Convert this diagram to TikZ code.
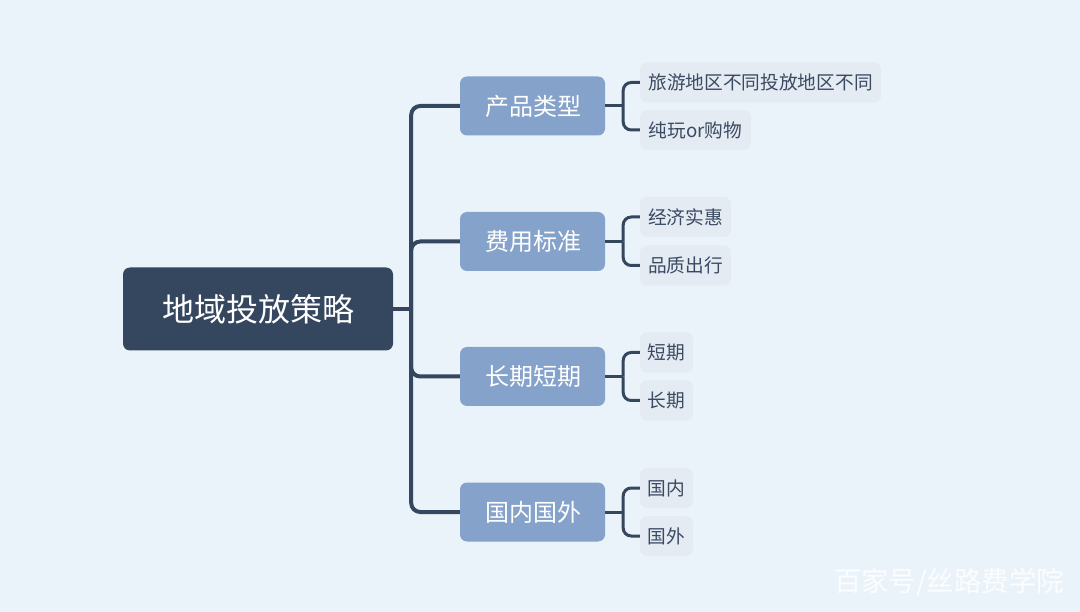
\documentclass[tikz,border=0pt]{standalone}
\usepackage{fontspec}
\setmainfont{Noto Sans CJK SC}
\definecolor{bgc}{HTML}{EBF3FA}
\definecolor{rootc}{HTML}{35465F}
\definecolor{catc}{HTML}{84A2CA}
\definecolor{leafc}{HTML}{E5EBF3}
\definecolor{leaft}{HTML}{3A4A62}
\definecolor{wm}{HTML}{FBFDFE}
\tikzset{
 rootbox/.style={fill=rootc,rounded corners=7pt,minimum width=270pt,minimum height=83pt,inner sep=0pt,text=white,font=\fontsize{32pt}{36pt}\selectfont},
 catbox/.style={fill=catc,rounded corners=7pt,minimum width=145pt,minimum height=59pt,inner sep=0pt,text=white,font=\fontsize{24pt}{28pt}\selectfont},
 leafbox/.style={fill=leafc,rounded corners=7pt,minimum height=40pt,inner sep=0pt,text=leaft,font=\fontsize{18.7pt}{22pt}\selectfont},
 trunk/.style={draw=rootc,line width=4pt,rounded corners=9pt},
 stub/.style={draw=rootc,line width=4pt},
 twig/.style={draw=rootc,line width=3pt,rounded corners=8pt},
 twigstub/.style={draw=rootc,line width=3pt}
}
\begin{document}
\begin{tikzpicture}[x=1pt,y=-1pt]
\useasboundingbox[fill=bgc] (0,0) rectangle (1080,612);
\node[rootbox] (root) at (258,309) {\raisebox{1pt}{地域投放策略}};
\node[catbox] (c1) at (532.5,106) {\hspace{1pt}产品类型};
\node[catbox] (c2) at (532.5,241.5) {\hspace{1pt}费用标准};
\node[catbox] (c3) at (532.5,376.5) {\hspace{1pt}长期短期};
\node[catbox] (c4) at (532.5,512) {\hspace{1pt}国内国外};
\node[leafbox,minimum width=241pt] (l1) at (760.5,82.5) {旅游地区不同投放地区不同};
\node[leafbox,minimum width=111pt] (l2) at (695.5,130) {纯玩or购物};
\node[leafbox,minimum width=91pt] (l3) at (685.5,217) {经济实惠};
\node[leafbox,minimum width=91pt] (l4) at (685.5,265.5) {品质出行};
\node[leafbox,minimum width=53pt] (l5) at (666.5,352.5) {短期};
\node[leafbox,minimum width=53pt] (l6) at (666.5,400.5) {长期};
\node[leafbox,minimum width=53pt] (l7) at (666.5,488) {\raisebox{1pt}{国内}};
\node[leafbox,minimum width=53pt] (l8) at (666.5,536) {国外};
\node[text=wm,font=\fontsize{27.4pt}{30pt}\selectfont,inner sep=0pt] (mark) at (949,582) {百家号/丝路费学院};
\coordinate (jr) at ([xshift=18pt]root.east);
\draw[stub] (root.east) -- (jr);
\foreach \c in {c1,c2,c3,c4}{
  \draw[trunk] (jr) |- (\c.west);
}
\foreach \c/\a/\b in {c1/l1/l2,c2/l3/l4,c3/l5/l6,c4/l7/l8}{
  \coordinate (j\c) at ([xshift=18pt]\c.east);
  \draw[twigstub] (\c.east) -- (j\c);
  \draw[twig] (j\c) |- (\a.west);
  \draw[twig] (j\c) |- (\b.west);
}
\end{tikzpicture}
\end{document}
